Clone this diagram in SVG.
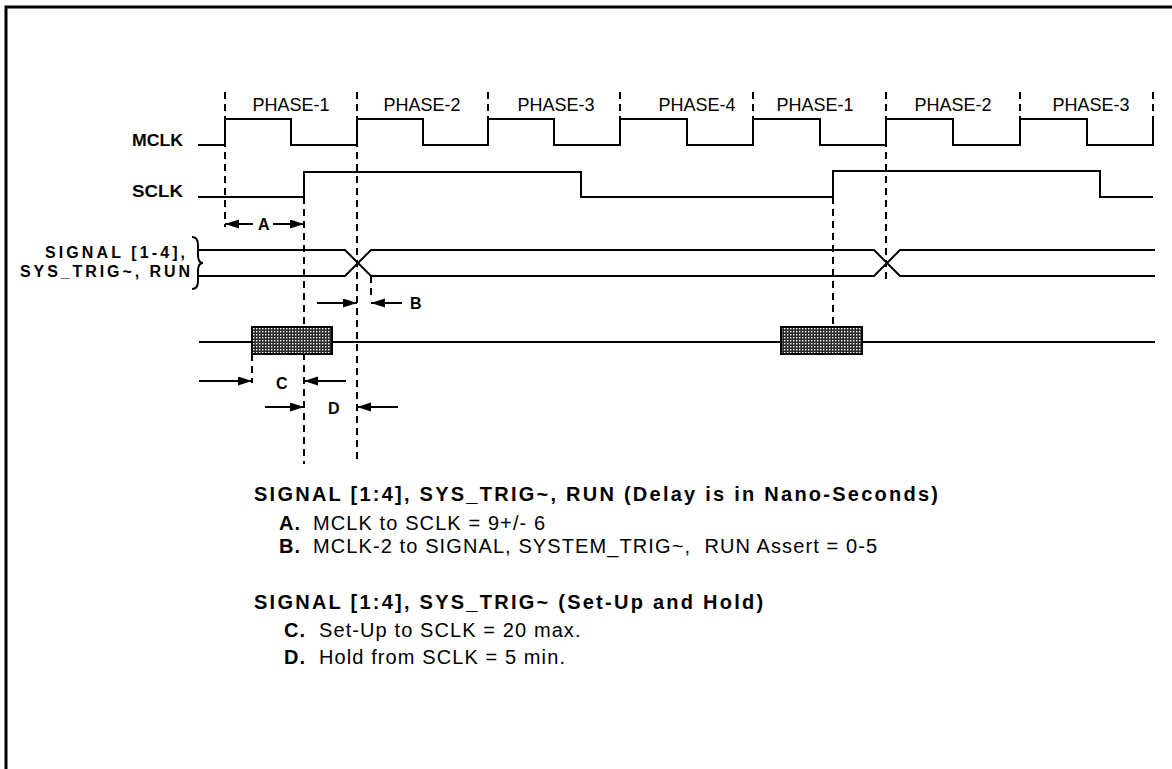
<svg xmlns="http://www.w3.org/2000/svg" width="1172" height="769" viewBox="0 0 1172 769">
<style>
.w{fill:none;stroke:#000;stroke-width:2;stroke-linejoin:miter}
.d{fill:none;stroke:#000;stroke-width:2;stroke-dasharray:7 5}
.a{fill:none;stroke:#000;stroke-width:2;marker-end:url(#ah)}
.lbl{font-family:"Liberation Sans",Arial,sans-serif;font-weight:bold;font-size:16px;fill:#000}
.ph{font-family:"Liberation Sans",Arial,sans-serif;font-size:18px;fill:#000;text-anchor:middle}
.t{font-family:"Liberation Sans",Arial,sans-serif;font-weight:bold;font-size:20px;letter-spacing:2.25px;fill:#000}
.r{font-family:"Liberation Sans",Arial,sans-serif;font-size:20px;letter-spacing:1.1px;fill:#000}
.b{font-weight:bold}
</style>
<defs>
<marker id="ah" markerUnits="userSpaceOnUse" markerWidth="15" markerHeight="10" refX="14" refY="4.5" orient="auto">
<path d="M0,0 L14,4.5 L0,9 z" fill="#000"/>
</marker>
<pattern id="hatch" width="3" height="3" patternUnits="userSpaceOnUse">
<rect width="3" height="3" fill="#2a2a2a"/>
<rect x="1" y="1" width="1.4" height="1.4" fill="#fff"/>
</pattern>
</defs>
<rect width="1172" height="769" fill="#fff"/>
<path d="M6,769 V7 H1172" fill="none" stroke="#000" stroke-width="3"/>

<g id="guides">
<line class="d" x1="225" y1="92" x2="225" y2="227"/>
<line class="d" x1="304" y1="197" x2="304" y2="464"/>
<line class="d" x1="357" y1="92" x2="357" y2="464"/>
<line class="d" x1="488" y1="92" x2="488" y2="119"/>
<line class="d" x1="620" y1="92" x2="620" y2="119"/>
<line class="d" x1="753" y1="92" x2="753" y2="119"/>
<line class="d" x1="886" y1="92" x2="886" y2="283"/>
<line class="d" x1="1020" y1="92" x2="1020" y2="119"/>
<line class="d" x1="1153" y1="92" x2="1153" y2="119"/>
<line class="d" x1="833" y1="197" x2="833" y2="327"/>
<line class="d" x1="252" y1="354" x2="252" y2="383"/>
<line class="d" x1="371" y1="276" x2="371" y2="300"/>
</g>

<g id="phases">
<text class="ph" x="291" y="111">PHASE-1</text>
<text class="ph" x="422" y="111">PHASE-2</text>
<text class="ph" x="556" y="111">PHASE-3</text>
<text class="ph" x="697" y="111">PHASE-4</text>
<text class="ph" x="815" y="111">PHASE-1</text>
<text class="ph" x="953" y="111">PHASE-2</text>
<text class="ph" x="1091" y="111">PHASE-3</text>
</g>

<g id="mclk">
<text class="lbl" x="132" y="146" textLength="51" lengthAdjust="spacingAndGlyphs">MCLK</text>
<path class="w" d="M198,145 H225 V119 H291 V145 H357 V119 H423 V145 H488 V119 H554 V145 H620 V119 H687 V145 H753 V119 H820 V145 H886 V119 H953 V145 H1020 V119 H1087 V145 H1153 V119"/>
</g>

<g id="sclk">
<text class="lbl" x="132" y="197" textLength="51" lengthAdjust="spacingAndGlyphs">SCLK</text>
<path class="w" d="M198,197 H304 V172 H581 V197 H833 V171 H1100 V197 H1153"/>
</g>

<g id="bus">
<text class="lbl" x="45" y="258" textLength="140" lengthAdjust="spacing">SIGNAL  [1-4],</text>
<text class="lbl" x="20" y="277" textLength="170" lengthAdjust="spacing">SYS_TRIG~, RUN</text>
<path class="w" d="M192,237 Q198,237 198,245 V255 Q198,263 203,263 Q198,263 198,271 V281 Q198,289 192,289"/>
<path class="w" d="M199,250 H345 L371,276 H874 L900,250 H1155"/>
<path class="w" d="M199,276 H345 L371,250 H874 L900,276 H1155"/>
</g>

<g id="setup">
<line class="w" x1="199" y1="342" x2="1155" y2="342"/>
<rect x="252" y="327" width="80" height="27" fill="url(#hatch)" stroke="#000" stroke-width="2"/>
<rect x="781" y="327" width="81" height="27" fill="url(#hatch)" stroke="#000" stroke-width="2"/>
</g>

<g id="connectors">
<line class="a" x1="253" y1="224" x2="225" y2="224"/>
<line class="a" x1="273" y1="224" x2="304" y2="224"/>
<line class="a" x1="317" y1="303" x2="357" y2="303"/>
<line class="a" x1="402" y1="303" x2="371" y2="303"/>
<line class="a" x1="199" y1="381" x2="252" y2="381"/>
<line class="a" x1="346" y1="381" x2="304" y2="381"/>
<line class="a" x1="265" y1="407" x2="304" y2="407"/>
<line class="a" x1="398" y1="407" x2="357" y2="407"/>
</g>

<g id="dimlabels">
<text class="lbl" x="258" y="230">A</text>
<text class="lbl" x="410" y="309">B</text>
<text class="lbl" x="276" y="389">C</text>
<text class="lbl" x="328" y="414">D</text>
</g>

<g id="notes">
<text class="t" x="254" y="501">SIGNAL [1:4], SYS_TRIG~, RUN (Delay is in Nano-Seconds)</text>
<text class="r" x="279" y="530"><tspan class="b">A.</tspan><tspan x="313">MCLK to SCLK = 9+/- 6</tspan></text>
<text class="r" x="279" y="553" xml:space="preserve"><tspan class="b">B.</tspan><tspan x="313">MCLK-2 to SIGNAL, SYSTEM_TRIG~,  RUN Assert = 0-5</tspan></text>
<text class="t" x="254" y="609">SIGNAL [1:4], SYS_TRIG~ (Set-Up and Hold)</text>
<text class="r" x="284" y="637"><tspan class="b">C.</tspan><tspan x="319">Set-Up to SCLK = 20 max.</tspan></text>
<text class="r" x="284" y="664"><tspan class="b">D.</tspan><tspan x="319">Hold from SCLK = 5 min.</tspan></text>
</g>
</svg>
